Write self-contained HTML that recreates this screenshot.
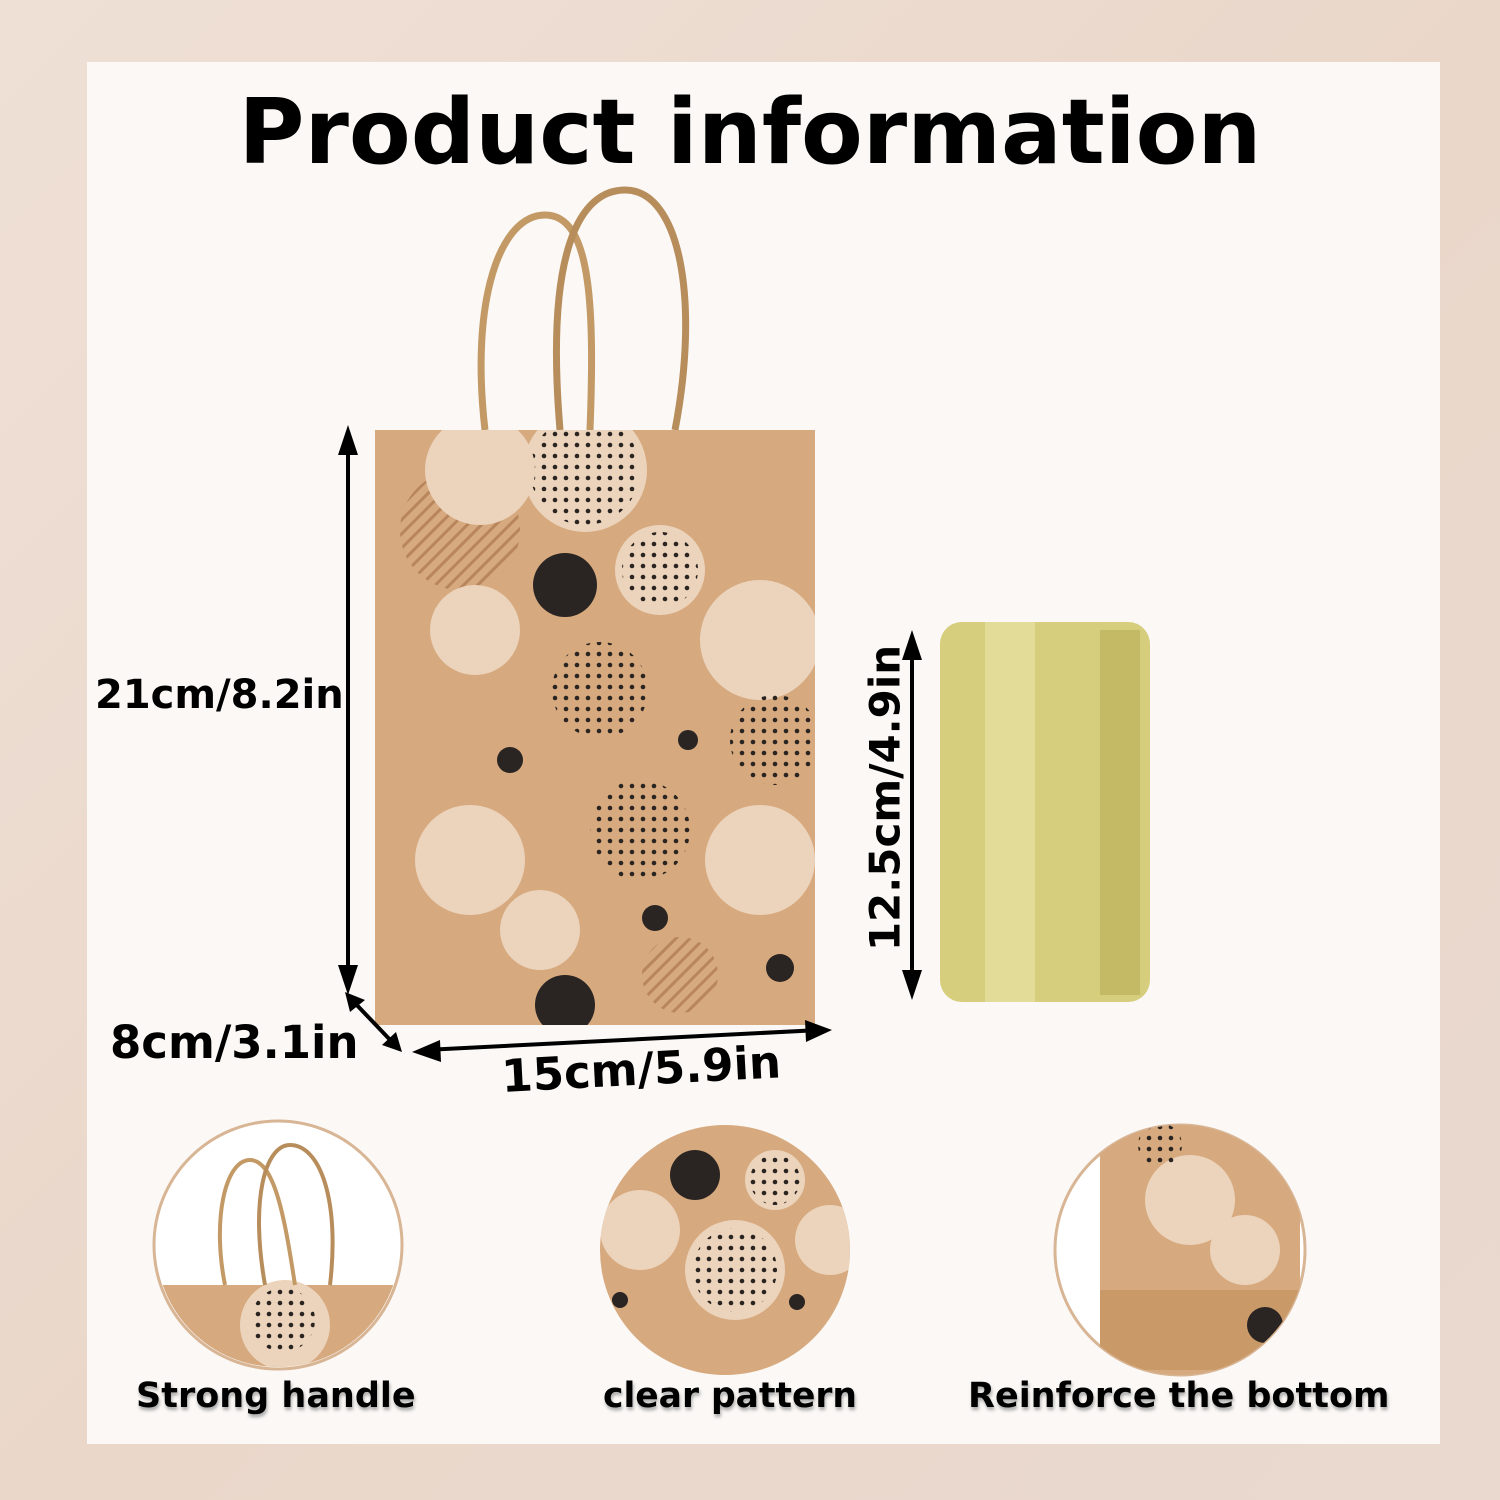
<!DOCTYPE html>
<html><head><meta charset="utf-8"><style>
html,body{margin:0;padding:0}
body{width:1500px;height:1500px;position:relative;overflow:hidden;background:linear-gradient(135deg,#efe0d6,#ead7ca 50%,#e9d9cf);font-family:"DejaVu Sans",sans-serif}
.panel{position:absolute;left:87px;top:62px;width:1353px;height:1382px;background:#fbf8f5}
.t{position:absolute;font-weight:bold;color:#000;white-space:nowrap;font-family:"DejaVu Sans",sans-serif}
</style></head><body>
<div class="panel"></div>
<div class="t" style="left:0;width:1500px;text-align:center;top:80px;font-size:90px;">Product information</div>
<svg width="1500" height="1500" style="position:absolute;left:0;top:0">
<defs>
<pattern id="dots" width="11" height="11" patternUnits="userSpaceOnUse"><circle cx="5" cy="5" r="2.3" fill="#2a2420"/></pattern>
<pattern id="lines" width="10" height="10" patternUnits="userSpaceOnUse" patternTransform="rotate(45)"><rect width="3" height="10" fill="#b8855c"/></pattern>
<clipPath id="c1"><circle cx="278" cy="1245" r="122"/></clipPath>
<clipPath id="c2"><circle cx="725" cy="1250" r="125"/></clipPath>
<clipPath id="c3"><circle cx="1180" cy="1250" r="125"/></clipPath>
<clipPath id="bag"><rect x="375" y="430" width="440" height="595"/></clipPath>
</defs>
<path d="M485 430 C470 300 500 215 545 215 C590 215 595 300 590 430" fill="none" stroke="#c39a66" stroke-width="7"/>
<path d="M560 430 C545 250 580 190 625 190 C680 190 700 300 675 430" fill="none" stroke="#b88d5c" stroke-width="7"/>
<rect x="375" y="430" width="440" height="595" fill="#d6a97e"/>
<g clip-path="url(#bag)">
<circle cx="585" cy="470" r="62" fill="#ecd3bb"/><circle cx="585" cy="470" r="55" fill="url(#dots)"/>
<circle cx="460" cy="530" r="60" fill="url(#lines)"/>
<circle cx="480" cy="470" r="55" fill="#ecd3bb"/>
<circle cx="565" cy="585" r="32" fill="#2a2523"/>
<circle cx="660" cy="570" r="45" fill="#ecd3bb"/><circle cx="660" cy="570" r="38" fill="url(#dots)"/>
<circle cx="760" cy="640" r="60" fill="#ecd3bb"/>
<circle cx="475" cy="630" r="45" fill="#ecd3bb"/>
<circle cx="600" cy="690" r="48" fill="url(#dots)"/>
<circle cx="775" cy="740" r="45" fill="url(#dots)"/>
<circle cx="510" cy="760" r="13" fill="#2a2523"/><circle cx="688" cy="740" r="10" fill="#2a2523"/>
<circle cx="640" cy="830" r="50" fill="url(#dots)"/>
<circle cx="470" cy="860" r="55" fill="#ecd3bb"/>
<circle cx="760" cy="860" r="55" fill="#ecd3bb"/>
<circle cx="540" cy="930" r="40" fill="#ecd3bb"/>
<circle cx="655" cy="918" r="13" fill="#2a2523"/>
<circle cx="680" cy="975" r="38" fill="url(#lines)"/>
<circle cx="565" cy="1005" r="30" fill="#2a2523"/>
<circle cx="780" cy="968" r="14" fill="#2a2523"/>
</g>
<rect x="940" y="622" width="210" height="380" rx="22" fill="#d6ce7c"/>
<rect x="985" y="622" width="50" height="380" fill="#e8e2a5" opacity=".7"/>
<rect x="1100" y="630" width="40" height="365" fill="#b7ac57" opacity=".6"/>
<g stroke="#000" stroke-width="4" fill="#000">
<line x1="348" y1="445" x2="348" y2="980"/>
<polygon points="348,425 338,455 358,455" stroke="none"/><polygon points="348,995 338,965 358,965" stroke="none"/>
<line x1="912" y1="645" x2="912" y2="985"/>
<polygon points="912,630 902,660 922,660" stroke="none"/><polygon points="912,1000 902,970 922,970" stroke="none"/>
<line x1="425" y1="1050" x2="820" y2="1030"/>
<polygon points="412,1052 440,1040 441,1062" stroke="none"/><polygon points="832,1030 805,1020 806,1042" stroke="none"/>
<line x1="352" y1="1000" x2="395" y2="1045"/>
<polygon points="345,992 350,1012 365,1000" stroke="none"/><polygon points="402,1052 396,1032 382,1045" stroke="none"/>
</g>
<circle cx="278" cy="1245" r="124" fill="#fff" stroke="#d8b594" stroke-width="3"/>
<g clip-path="url(#c1)">
<rect x="150" y="1285" width="260" height="100" fill="#d6a97e"/>
<circle cx="285" cy="1325" r="45" fill="#ecd3bb"/><circle cx="283" cy="1320" r="32" fill="url(#dots)"/>
<path d="M225 1285 C212 1220 225 1160 250 1160 C275 1160 285 1220 295 1285" fill="none" stroke="#c39a66" stroke-width="4"/>
<path d="M265 1285 C250 1200 265 1145 290 1145 C320 1145 340 1200 330 1285" fill="none" stroke="#b88d5c" stroke-width="4"/>
</g>
<circle cx="725" cy="1250" r="125" fill="#d6a97e"/>
<g clip-path="url(#c2)">
<circle cx="695" cy="1175" r="25" fill="#2a2523"/>
<circle cx="775" cy="1180" r="30" fill="#ecd3bb"/><circle cx="775" cy="1180" r="25" fill="url(#dots)"/>
<circle cx="640" cy="1230" r="40" fill="#ecd3bb"/>
<circle cx="735" cy="1270" r="50" fill="#ecd3bb"/><circle cx="735" cy="1270" r="42" fill="url(#dots)"/>
<circle cx="620" cy="1300" r="8" fill="#2a2523"/><circle cx="797" cy="1302" r="8" fill="#2a2523"/>
<circle cx="830" cy="1240" r="35" fill="#ecd3bb"/>
</g>
<circle cx="1180" cy="1250" r="125" fill="#fff" stroke="#d8b594" stroke-width="3"/>
<g clip-path="url(#c3)">
<rect x="1100" y="1125" width="200" height="260" fill="#d6a97e"/>
<rect x="1100" y="1290" width="200" height="80" fill="#c99968"/>
<circle cx="1190" cy="1200" r="45" fill="#ecd3bb"/>
<circle cx="1245" cy="1250" r="35" fill="#ecd3bb"/>
<circle cx="1265" cy="1325" r="18" fill="#2a2523"/>
<circle cx="1160" cy="1145" r="22" fill="url(#dots)"/>
</g>
</svg>
<div class="t" style="left:95px;top:672px;font-size:40px;">21cm/8.2in</div>
<div class="t" style="left:110px;top:1016px;font-size:45px;">8cm/3.1in</div>
<div class="t" style="left:500px;top:1050px;font-size:45px;transform:rotate(-3deg);transform-origin:left top;">15cm/5.9in</div>
<div class="t" style="left:885px;top:798px;font-size:42px;transform:translate(-50%,-50%) rotate(-90deg);">12.5cm/4.9in</div>
<div class="t" style="left:136px;top:1376px;font-size:35px;text-shadow:1px 3px 3px #aaa">Strong handle</div>
<div class="t" style="left:603px;top:1376px;font-size:34.5px;text-shadow:1px 3px 3px #aaa">clear pattern</div>
<div class="t" style="left:968px;top:1376px;font-size:35px;text-shadow:1px 3px 3px #aaa">Reinforce the bottom</div>
</body></html>
